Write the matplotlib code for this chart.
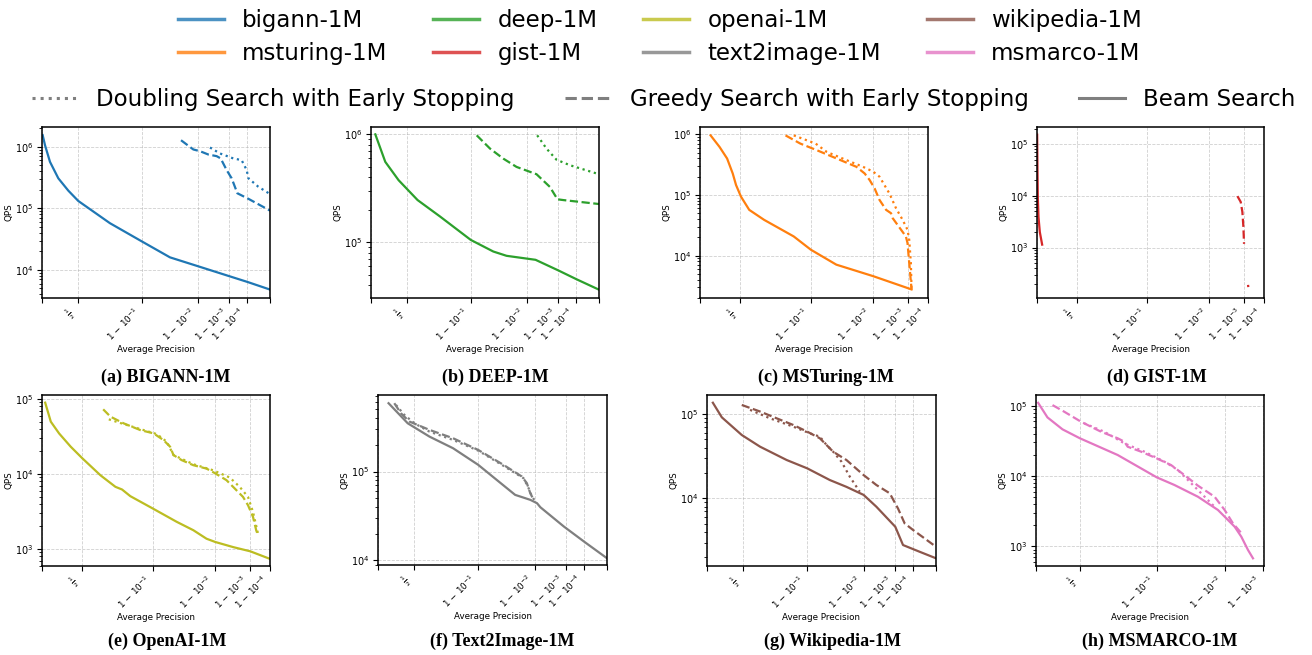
import numpy as np
import matplotlib
matplotlib.use('Agg')
import matplotlib.pyplot as plt
from matplotlib.lines import Line2D

# ---- data: (average precision, QPS) per dataset and search strategy ----
bigann_beam_ap = [0.0116, 0.052, 0.133, 0.257, 0.388, 0.5, 0.757, 0.9, 0.963, 0.99, 0.999, 0.9999, 1.0]
bigann_beam_qps = [1.55e6, 1.06e6, 5.7e5, 3.08e5, 1.94e5, 1.32e5, 5.75e4, 2.91e4, 1.6e4, 1.15e4, 7.9e3, 6.4e3, 4.8e3]
bigann_greedy_ap = [0.9768, 0.9872, 0.9911, 0.99465, 0.9970, 0.99781, 0.99869, 0.99920, 0.99958, 0.99992, 1.0]
bigann_greedy_qps = [1.28e6, 9.06e5, 8.5e5, 7.5e5, 7.06e5, 6.48e5, 4.2e5, 3.08e5, 1.76e5, 1.43e5, 9.2e4]
bigann_doubling_ap = [0.9952, 0.99769, 0.99933, 0.99976, 0.99989, 0.99992, 0.999993, 1.0]
bigann_doubling_qps = [9.75e5, 7.8e5, 6.48e5, 6.08e5, 4.2e5, 3.08e5, 2.25e5, 1.71e5]

deep_beam_ap = [0.0737, 0.228, 0.403, 0.599, 0.764, 0.9, 0.9538, 0.9730, 0.9940, 0.999, 0.9999, 1.0]
deep_beam_qps = [1e6, 5.56e5, 3.76e5, 2.46e5, 1.73e5, 1.05e5, 8.2e4, 7.48e4, 6.87e4, 5.47e4, 4.55e4, 3.63e4]
deep_greedy_ap = [0.9172, 0.9478, 0.9689, 0.9829, 0.99436, 0.99784, 0.99890, 0.99939, 1.0]
deep_greedy_qps = [9.8e5, 7.38e5, 5.96e5, 4.99e5, 4.27e5, 3.26e5, 2.5e5, 2.46e5, 2.26e5]
deep_doubling_ap = [0.9946, 0.99719, 0.99879, 0.99973, 1.0]
deep_doubling_qps = [9.8e5, 7.38e5, 5.82e5, 5.18e5, 4.27e5]

msturing_beam_ap = [0.157, 0.2745, 0.364, 0.425, 0.4586, 0.506, 0.5786, 0.6885, 0.8425, 0.9, 0.9544, 0.99, 0.99926]
msturing_beam_qps = [9.6e5, 6.2e5, 3.99e5, 2.26e5, 1.46e5, 9.4e4, 5.68e4, 3.89e4, 2.07e4, 1.25e4, 7.1e3, 4.58e3, 2.77e3]
msturing_greedy_ap = [0.8074, 0.867, 0.9157, 0.9550, 0.9786, 0.985, 0.9881, 0.99064, 0.99279, 0.99504,
                      0.99634, 0.99672, 0.99877, 0.99893, 0.99908, 0.99926]
msturing_greedy_qps = [9.6e5, 7.03e5, 5.47e5, 3.99e5, 2.91e5, 2.26e5, 1.76e5, 1.29e5, 8.27e4, 5.68e4,
                       5.0e4, 4.14e4, 2.07e4, 1.61e4, 7.6e3, 2.77e3]
msturing_doubling_ap = [0.8425, 0.9127, 0.9376, 0.9684, 0.98385, 0.99, 0.99279, 0.99594, 0.99738, 0.99839,
                        0.99893, 0.99908, 0.99921, 0.99926]
msturing_doubling_qps = [9.6e5, 7.03e5, 5.13e5, 3.75e5, 2.91e5, 2.42e5, 2.0e5, 1.06e5, 6.04e4, 3.89e4,
                         2.67e4, 1.83e4, 7.6e3, 2.77e3]

gist_beam_ap = [0.0025, 0.0075, 0.0127, 0.0234, 0.0441, 0.0792]
gist_beam_qps = [1.52e5, 3.16e4, 9.6e3, 3.9e3, 1.99e3, 1.14e3]
gist_greedy_ap = [0.99822, 0.99863, 0.99881, 0.99891, 0.99897]
gist_greedy_qps = [9.86e3, 7.64e3, 4.88e3, 2.49e3, 1.18e3]
gist_doubling_ap = [0.99929, 0.99933]
gist_doubling_qps = [190, 150]

openai_beam_ap = [0.0494, 0.132, 0.244, 0.382, 0.5, 0.650, 0.7457, 0.781, 0.820, 0.9, 0.952, 0.9737,
                  0.9849, 0.99, 0.99636, 0.999, 0.99989]
openai_beam_qps = [8.93e4, 4.98e4, 3.47e4, 2.31e4, 1.62e4, 9.6e3, 6.74e3, 6.21e3, 5.06e3, 3.46e3, 2.3e3, 1.78e3,
                   1.37e3, 1.24e3, 1.06e3, 931, 743]
openai_greedy_ap = [0.669, 0.7165, 0.7894, 0.8597, 0.9019, 0.9267, 0.9403, 0.9464, 0.9595, 0.9737, 0.9849,
                    0.99, 0.99453, 0.99707, 0.99818, 0.99878, 0.99922, 0.99943, 0.99953]
openai_greedy_qps = [7.28e4, 5.81e4, 4.73e4, 3.85e4, 3.48e4, 2.83e4, 2.31e4, 1.79e4, 1.53e4, 1.31e4, 1.18e4,
                     1.02e4, 8.28e3, 6.08e3, 4.95e3, 3.84e3, 2.68e3, 1.78e3, 1.52e3]
openai_doubling_ap = [0.706, 0.7894, 0.8597, 0.9107, 0.9337, 0.9464, 0.9737, 0.98895, 0.99551, 0.99767,
                      0.99878, 0.99922, 0.99953]
openai_doubling_qps = [5.35e4, 4.63e4, 3.97e4, 3.4e4, 2.69e4, 1.79e4, 1.35e4, 1.12e4, 8.97e3, 6.74e3,
                       4.95e3, 3.12e3, 1.6e3]

text2image_beam_ap = [0.172, 0.4266, 0.6394, 0.7957, 0.9, 0.9462, 0.9741, 0.9874, 0.99127, 0.99283, 0.99874,
                      0.9999, 1.0]
text2image_beam_qps = [5.87e5, 3.49e5, 2.47e5, 1.83e5, 1.19e5, 8.06e4, 5.47e4, 4.81e4, 4.41e4, 3.97e4, 2.41e4,
                       1.63e4, 1.06e4]
text2image_greedy_ap = [0.2554, 0.345, 0.4456, 0.6394, 0.7957, 0.9, 0.9582, 0.9809, 0.985, 0.9874, 0.98946]
text2image_greedy_qps = [5.87e5, 4.52e5, 3.65e5, 2.94e5, 2.37e5, 1.75e5, 1.19e5, 8.79e4, 7.4e4, 5.71e4, 4.81e4]
text2image_doubling_ap = [0.2789, 0.3868, 0.5, 0.6394, 0.7957, 0.9, 0.9582, 0.9824, 0.98626, 0.98847, 0.98984]
text2image_doubling_qps = [5.61e5, 4.34e5, 3.49e5, 2.81e5, 2.27e5, 1.72e5, 1.16e5, 8.41e4, 6.5e4, 5.24e4, 4.81e4]

wikipedia_beam_ap = [0.0985, 0.235, 0.4824, 0.6516, 0.8191, 0.9, 0.9538, 0.9766, 0.99, 0.99541, 0.999,
                     0.99957, 0.999974, 1.0]
wikipedia_beam_qps = [1.36e5, 9.13e4, 5.64e4, 4.1e4, 2.85e4, 2.27e4, 1.65e4, 1.37e4, 1.1e4, 7.96e3, 4.61e3,
                      2.8e3, 2.33e3, 1.95e3]
wikipedia_greedy_ap = [0.4824, 0.6516, 0.7656, 0.8492, 0.9, 0.9339, 0.9594, 0.9766, 0.99, 0.99541, 0.99833,
                       0.99924, 0.99965, 0.9999, 1.0]
wikipedia_greedy_qps = [1.28e5, 1.07e5, 8.89e4, 7.41e4, 6.18e4, 5.15e4, 3.57e4, 2.85e4, 1.89e4, 1.44e4, 1.15e4,
                        7.6e3, 5.05e3, 4.22e3, 2.67e3]
wikipedia_doubling_ap = [0.5655, 0.724, 0.8492, 0.9081, 0.9339, 0.9478, 0.9594, 0.971, 0.9799, 0.9877]
wikipedia_doubling_qps = [1.12e5, 8.89e4, 7.08e4, 5.9e4, 5.39e4, 4.29e4, 3.57e4, 2.72e4, 1.81e4, 1.2e4]

msmarco_beam_ap = [0.0304, 0.156, 0.3324, 0.5, 0.7544, 0.9, 0.9384, 0.9708, 0.98653, 0.99, 0.99385, 0.99571,
                   0.99712, 0.99792]
msmarco_beam_qps = [1.1e5, 6.82e4, 4.61e4, 3.44e4, 1.99e4, 9.57e3, 7.45e3, 5.08e3, 3.29e3, 2.64e3, 1.9e3, 1.37e3,
                    887, 675]
msmarco_greedy_ap = [0.2186, 0.3503, 0.5085, 0.6582, 0.7544, 0.7864, 0.8012, 0.853, 0.9, 0.9322, 0.9545, 0.9708,
                     0.9845, 0.98998, 0.9933, 0.9961]
msmarco_greedy_qps = [1.02e5, 8.22e4, 5.93e4, 4.27e4, 3.44e4, 3.08e4, 2.61e4, 2.22e4, 1.78e4, 1.43e4, 1.03e4,
                      7.3e3, 5.08e3, 3.29e3, 2.12e3, 1.45e3]
msmarco_doubling_ap = [0.5363, 0.6793, 0.7864, 0.8642, 0.9184, 0.9442, 0.9634, 0.9771, 0.9845]
msmarco_doubling_qps = [5.61e4, 4.27e4, 2.91e4, 2.22e4, 1.6e4, 1.22e4, 7.87e3, 5.08e3, 3.66e3]

names = ['bigann-1M', 'msturing-1M', 'deep-1M', 'gist-1M',
         'openai-1M', 'text2image-1M', 'wikipedia-1M', 'msmarco-1M']
colors = {'bigann-1M': '#1f77b4', 'msturing-1M': '#ff7f0e', 'deep-1M': '#2ca02c', 'gist-1M': '#d62728',
          'openai-1M': '#bcbd22', 'text2image-1M': '#7f7f7f', 'wikipedia-1M': '#8c564b', 'msmarco-1M': '#e377c2'}

xticks = [0, 0.5, 0.9, 0.99, 0.999, 0.9999, 1.0]
xticklabels = ['', r'$\frac{1}{2}$', r'$1\,-\,10^{-1}$', r'$1\,-\,10^{-2}$', r'$1\,-\,10^{-3}$',
               r'$1\,-\,10^{-4}$', '']


def fwd(p):
    p = np.clip(np.asarray(p, dtype=float), 0, 1)
    return 1 - (1 - p) ** 0.25


def inv(f):
    f = np.clip(np.asarray(f, dtype=float), -1, 1)
    return 1 - (1 - f) ** 4


W, H = 1312, 655
fig = plt.figure(figsize=(W / 100, H / 100), dpi=100)

# panel: (caption, colour key, beam, greedy, doubling, xmax, ylim, pixel box l,r,t,b, caption centre x,y)
panels = [
    ('(a) BIGANN-1M', 'bigann-1M', (bigann_beam_ap, bigann_beam_qps), (bigann_greedy_ap, bigann_greedy_qps),
     (bigann_doubling_ap, bigann_doubling_qps), 1.0, (3.5e3, 2.1e6), (42, 270, 127, 298), (166, 377)),
    ('(b) DEEP-1M', 'deep-1M', (deep_beam_ap, deep_beam_qps), (deep_greedy_ap, deep_greedy_qps),
     (deep_doubling_ap, deep_doubling_qps), 1.0, (3.04e4, 1.17e6), (371, 599, 127, 298), (495, 377)),
    ('(c) MSTuring-1M', 'msturing-1M', (msturing_beam_ap, msturing_beam_qps), (msturing_greedy_ap, msturing_greedy_qps),
     (msturing_doubling_ap, msturing_doubling_qps), 0.9999, (2.0e3, 1.32e6), (700, 928, 127, 298), (826, 377)),
    ('(d) GIST-1M', 'gist-1M', (gist_beam_ap, gist_beam_qps), (gist_greedy_ap, gist_greedy_qps),
     (gist_doubling_ap, gist_doubling_qps), 0.9999, (106, 2.14e5), (1037, 1264, 127, 298), (1157, 377)),
    ('(e) OpenAI-1M', 'openai-1M', (openai_beam_ap, openai_beam_qps), (openai_greedy_ap, openai_greedy_qps),
     (openai_doubling_ap, openai_doubling_qps), 0.9999, (593, 1.13e5), (42, 270, 395, 566), (167, 641)),
    ('(f) Text2Image-1M', 'text2image-1M', (text2image_beam_ap, text2image_beam_qps),
     (text2image_greedy_ap, text2image_greedy_qps), (text2image_doubling_ap, text2image_doubling_qps),
     1.0, (8.9e3, 7.26e5), (378, 607, 395, 565), (502, 641)),
    ('(g) Wikipedia-1M', 'wikipedia-1M', (wikipedia_beam_ap, wikipedia_beam_qps),
     (wikipedia_greedy_ap, wikipedia_greedy_qps), (wikipedia_doubling_ap, wikipedia_doubling_qps),
     1.0, (1.58e3, 1.68e5), (707, 936, 395, 566), (833, 641)),
    ('(h) MSMARCO-1M', 'msmarco-1M', (msmarco_beam_ap, msmarco_beam_qps), (msmarco_greedy_ap, msmarco_greedy_qps),
     (msmarco_doubling_ap, msmarco_doubling_qps), 0.99909, (525, 1.42e5), (1036, 1264, 395, 566), (1160, 641)),
]

for caption, key, beam, greedy, doubling, xmax, ylim, box, cap in panels:
    l, r, t, b = box
    ax = fig.add_axes([l / W, 1 - b / H, (r - l) / W, (b - t) / H])
    c = colors[key]
    ax.plot(beam[0], beam[1], color=c, lw=1.6, ls='-')
    ax.plot(greedy[0], greedy[1], color=c, lw=1.6, ls='--')
    ax.plot(doubling[0], doubling[1], color=c, lw=1.6, ls=':')
    ax.set_xscale('function', functions=(fwd, inv))
    ax.set_yscale('log')
    ax.set_xticks(xticks)
    ax.set_xticklabels(xticklabels, rotation=45, ha='right', fontsize=6.3)
    ax.set_xlim(0, xmax)
    ax.set_ylim(*ylim)
    ax.tick_params(axis='y', labelsize=7, pad=2.5)
    ax.tick_params(axis='x', pad=2)
    ax.set_xlabel('Average Precision', fontsize=6.3, labelpad=1)
    ax.set_ylabel('QPS', fontsize=6.3, labelpad=1)
    ax.grid(True, which='major', ls='--', lw=0.6, color='#b0b0b0', alpha=0.6)
    for s in ax.spines.values():
        s.set_linewidth(1.1)
    fig.text(cap[0] / W, 1 - cap[1] / H, caption, ha='center', va='center',
             fontsize=13, fontweight='bold', family='Liberation Serif')

# dataset legend
h1 = [Line2D([0], [0], color=colors[n], lw=2.5, alpha=0.8) for n in names]
fig.legend(h1, names, loc='upper center', bbox_to_anchor=(0.503, 1.018), ncol=4, frameon=False,
           fontsize=16.5, handlelength=2.0, columnspacing=2.0, labelspacing=0.45)

# search strategy legend
h2 = [Line2D([0], [0], color='#7f7f7f', lw=2.2, ls=':'),
      Line2D([0], [0], color='#7f7f7f', lw=2.2, ls='--'),
      Line2D([0], [0], color='#7f7f7f', lw=2.2, ls='-')]
fig.legend(h2, ['Doubling Search with Early Stopping', 'Greedy Search with Early Stopping', 'Beam Search'],
           loc='upper center', bbox_to_anchor=(0.506, 1 - 67 / H), ncol=3, frameon=False,
           fontsize=16.5, handlelength=2.0, columnspacing=2.2)

fig.savefig('out.png', dpi=100)
